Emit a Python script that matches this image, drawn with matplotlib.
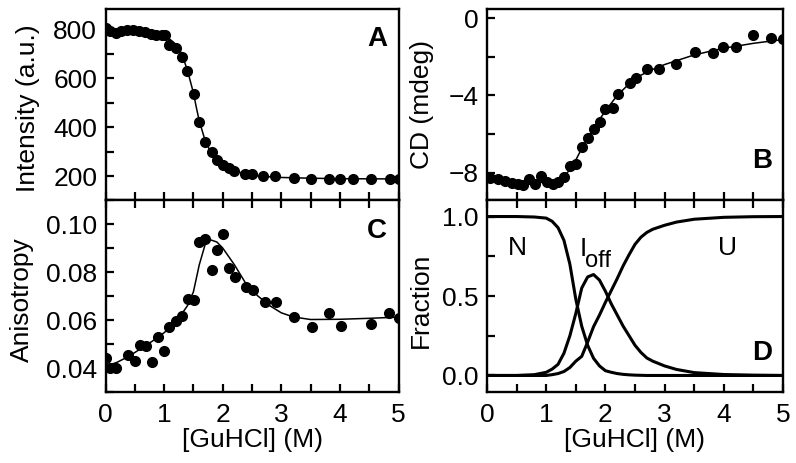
import matplotlib
matplotlib.use("Agg")
import matplotlib.pyplot as plt
from matplotlib.ticker import MultipleLocator

plt.rcParams['font.family'] = ['Liberation Sans', 'DejaVu Sans']

# ---------------- data ----------------
# Panel A: intrinsic fluorescence intensity
a_x = [0.0, 0.08, 0.175, 0.27, 0.37, 0.47, 0.57, 0.67, 0.77, 0.87, 0.96, 1.01,
       1.08, 1.21, 1.30, 1.39, 1.51, 1.60, 1.70, 1.81, 1.90, 2.00, 2.10, 2.20,
       2.38, 2.50, 2.69, 2.90, 3.22, 3.51, 3.82, 4.01, 4.23, 4.53, 4.85, 5.0]
a_y = [804, 794, 786, 793, 797, 797, 793, 788, 780, 777, 777, 777,
       736, 722, 688, 630, 535, 421, 339, 296, 267, 244, 233, 221,
       210, 210, 200, 199, 192, 189, 186, 189, 186, 189, 186, 186]
a_fit_x = [0.0, 0.5, 0.8, 1.0, 1.1, 1.2, 1.3, 1.4, 1.5, 1.55, 1.6, 1.7, 1.8,
           1.9, 2.0, 2.1, 2.2, 2.4, 2.6, 3.0, 3.5, 4.0, 5.0]
a_fit_y = [800, 796, 788, 772, 758, 738, 700, 630, 540, 480, 425, 345, 295,
           265, 245, 230, 220, 208, 200, 194, 191, 189, 188]

# Panel B: CD signal
b_x = [0.05, 0.18, 0.30, 0.42, 0.52, 0.61, 0.71, 0.81, 0.91, 1.01, 1.11, 1.20,
       1.30, 1.40, 1.50, 1.60, 1.71, 1.80, 1.91, 2.00, 2.12, 2.21, 2.42, 2.51,
       2.71, 2.91, 3.20, 3.51, 3.81, 3.99, 4.20, 4.50, 4.80, 5.0]
b_y = [-8.26, -8.33, -8.41, -8.52, -8.59, -8.64, -8.33, -8.59, -8.16, -8.50,
       -8.60, -8.50, -8.21, -7.64, -7.55, -6.65, -6.19, -5.74, -5.39, -4.70,
       -4.63, -3.94, -3.37, -3.08, -2.64, -2.64, -2.37, -1.73, -1.78, -1.47,
       -1.47, -0.87, -1.04, -1.07]
b_fit_x = [0.0, 0.4, 0.8, 1.0, 1.2, 1.3, 1.4, 1.5, 1.6, 1.8, 2.0, 2.2, 2.4,
           2.6, 2.8, 3.0, 3.5, 4.0, 4.5, 5.0]
b_fit_y = [-8.30, -8.42, -8.50, -8.52, -8.42, -8.20, -7.85, -7.35, -6.75,
           -5.70, -4.80, -4.00, -3.40, -2.95, -2.65, -2.40, -1.90, -1.55,
           -1.30, -1.10]

# Panel C: anisotropy
c_x = [0.0, 0.08, 0.175, 0.39, 0.50, 0.585, 0.69, 0.785, 0.89, 1.0, 1.09, 1.20,
       1.30, 1.40, 1.51, 1.60, 1.70, 1.81, 1.90, 2.01, 2.11, 2.21, 2.40, 2.51,
       2.72, 2.91, 3.22, 3.52, 3.82, 4.02, 4.53, 4.83, 5.0]
c_y = [0.0442, 0.0400, 0.0400, 0.0455, 0.0430, 0.0494, 0.0490, 0.0427, 0.0529,
       0.0469, 0.0570, 0.0594, 0.0617, 0.0687, 0.0684, 0.0926, 0.0936, 0.0809,
       0.0892, 0.0958, 0.0816, 0.0778, 0.0737, 0.0723, 0.0677, 0.0677, 0.0612,
       0.0569, 0.0629, 0.0573, 0.0584, 0.0629, 0.0608]
c_fit_x = [0.0, 0.2, 0.4, 0.6, 0.8, 1.0, 1.2, 1.4, 1.5, 1.6, 1.7, 1.78, 1.9,
           2.0, 2.2, 2.4, 2.6, 2.8, 3.0, 3.2, 3.5, 4.0, 4.5, 5.0]
c_fit_y = [0.0407, 0.0424, 0.0449, 0.0480, 0.0512, 0.0547, 0.0590, 0.0660,
           0.0717, 0.0830, 0.0914, 0.0935, 0.0925, 0.0900, 0.0830, 0.0750,
           0.0700, 0.0660, 0.0630, 0.0613, 0.0602, 0.0603, 0.0607, 0.0612]

# Panel D: fraction of species
d_x = [0.0, 0.5, 0.8, 1.0, 1.1, 1.2, 1.3, 1.4, 1.5, 1.6, 1.7, 1.8, 1.9, 2.0,
       2.1, 2.2, 2.3, 2.4, 2.5, 2.6, 2.7, 2.8, 3.0, 3.2, 3.5, 4.0, 4.5, 5.0]
d_N = [1.0, 1.0, 0.997, 0.99, 0.97, 0.93, 0.85, 0.70, 0.48, 0.31, 0.19, 0.108,
       0.06, 0.03, 0.02, 0.012, 0.007, 0.004, 0.002, 0.001, 0.0, 0.0, 0.0,
       0.0, 0.0, 0.0, 0.0, 0.0]
d_I = [0.0, 0.0, 0.005, 0.02, 0.04, 0.07, 0.14, 0.25, 0.39, 0.55, 0.62,
       0.635, 0.60, 0.53, 0.45, 0.38, 0.31, 0.25, 0.19, 0.145, 0.11, 0.09,
       0.06, 0.038, 0.018, 0.006, 0.002, 0.0]
d_U = [0.0, 0.0, 0.0, 0.0, 0.005, 0.012, 0.025, 0.05, 0.09, 0.12, 0.21, 0.307,
       0.38, 0.46, 0.535, 0.61, 0.69, 0.76, 0.825, 0.87, 0.90, 0.92, 0.945,
       0.965, 0.983, 0.995, 0.999, 1.0]

x_ticks = [0, 1, 2, 3, 4, 5]
panel_letters = ['A', 'B', 'C', 'D']

# ---------------- figure ----------------
fig = plt.figure(figsize=(7.96, 4.63), dpi=100)
W, H = 796.0, 463.0
lx0, lx1 = 105.5, 398.5
rx0, rx1 = 487.0, 783.0
ty0, ty1 = 9.0, 200.0
by0, by1 = 200.0, 392.0

def mk(x0, x1, y0, y1):
    return fig.add_axes([x0 / W, (H - y1) / H, (x1 - x0) / W, (y1 - y0) / H])

axA = mk(lx0, lx1, ty0, ty1)
axB = mk(rx0, rx1, ty0, ty1)
axC = mk(lx0, lx1, by0, by1)
axD = mk(rx0, rx1, by0, by1)

FS = 19
LW_FRAME = 1.7

for ax in (axA, axB, axC, axD):
    ax.set_xlim(0, 5)
    ax.xaxis.set_major_locator(MultipleLocator(1))
    ax.xaxis.set_minor_locator(MultipleLocator(0.5))
    for s in ax.spines.values():
        s.set_linewidth(LW_FRAME)
    ax.tick_params(which='both', direction='in', length=6, width=1.6,
                   labelsize=FS, pad=6)

# top panels: ticks left & bottom only, no bottom labels
for ax in (axA, axB):
    ax.tick_params(which='both', top=False, right=False, labelbottom=False)
for ax in (axC, axD):
    ax.tick_params(which='both', top=True, right=False, labelbottom=True)
    ax.tick_params(axis='x', pad=8)
    ax.set_xticks(x_ticks)
    ax.set_xticklabels([str(t) for t in x_ticks])
    ax.set_xlabel('[GuHCl] (M)', fontsize=FS, labelpad=1)

mkw = dict(marker='o', ms=7, color='black', linestyle='none', zorder=3)

# A
axA.plot(a_fit_x, a_fit_y, color='black', lw=1.1)
axA.plot(a_x, a_y, **mkw)
axA.set_ylim(102, 882)
axA.yaxis.set_major_locator(MultipleLocator(200))
axA.yaxis.set_minor_locator(MultipleLocator(100))
axA.set_ylabel('Intensity (a.u.)', fontsize=FS)
axA.yaxis.set_label_coords(-0.225, 0.48)

# B
axB.plot(b_fit_x, b_fit_y, color='black', lw=1.1)
axB.plot(b_x, b_y, **mkw)
axB.set_ylim(-9.42, 0.48)
axB.yaxis.set_major_locator(MultipleLocator(4))
axB.yaxis.set_minor_locator(MultipleLocator(2))
axB.set_ylabel('CD (mdeg)', fontsize=FS)
axB.yaxis.set_label_coords(-0.18, 0.5)

# C
axC.plot(c_fit_x, c_fit_y, color='black', lw=1.1)
axC.plot(c_x, c_y, **mkw)
axC.set_ylim(0.030, 0.110)
axC.set_yticks([0.04, 0.06, 0.08, 0.10])
axC.set_yticklabels(['0.04', '0.06', '0.08', '0.10'])
axC.yaxis.set_minor_locator(MultipleLocator(0.01))
axC.set_ylabel('Anisotropy', fontsize=FS)
axC.yaxis.set_label_coords(-0.245, 0.48)

# D
for yy in (d_N, d_I, d_U):
    axD.plot(d_x, yy, color='black', lw=2.2, solid_joinstyle='round')
axD.set_ylim(-0.104, 1.104)
axD.set_yticks([0.0, 0.5, 1.0])
axD.set_yticklabels(['0.0', '0.5', '1.0'])
axD.yaxis.set_minor_locator(MultipleLocator(0.25))
axD.set_ylabel('Fraction', fontsize=FS)
axD.yaxis.set_label_coords(-0.183, 0.48)
axD.text(0.52, 0.80, 'N', fontsize=FS, ha='center', va='center')
axD.text(1.56, 0.87, 'I', fontsize=FS, ha='left', va='top')
axD.text(1.66, 0.685, 'off', fontsize=17, ha='left', va='baseline')
axD.text(4.07, 0.80, 'U', fontsize=FS, ha='center', va='center')

# panel letters
for ax, lab, (px, py) in zip((axA, axB, axC, axD), panel_letters,
                              [(0.927, 0.843), (0.929, 0.204),
                               (0.927, 0.839), (0.929, 0.203)]):
    ax.text(px, py, lab, transform=ax.transAxes, fontsize=20,
            fontweight='bold', ha='center', va='center')

fig.savefig('out.png', dpi=100)
